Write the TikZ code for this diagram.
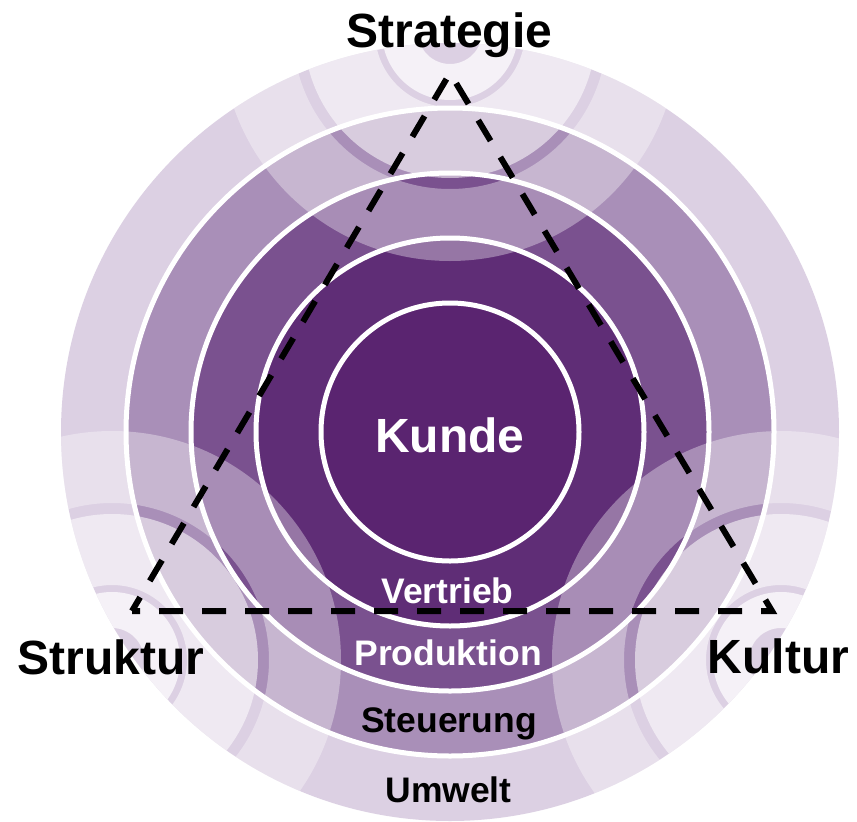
\documentclass[tikz,border=0pt]{standalone}
\usepackage{fontspec}
\setmainfont{Liberation Sans}
\definecolor{cUmwelt}{HTML}{DCD0E3}
\definecolor{cSteuer}{HTML}{A98FB8}
\definecolor{cProd}{HTML}{7A518F}
\definecolor{cVertr}{HTML}{5F2D76}
\definecolor{cKunde}{HTML}{5A2470}
\tikzset{
  bigtext/.style={inner sep=0pt, anchor=base, font=\fontsize{48}{50}\selectfont\bfseries},
  ringtext/.style={inner sep=0pt, anchor=base, font=\fontsize{35.5}{38}\selectfont\bfseries},
  ringline/.style={draw=white, line width=5pt},
  tri/.style={draw=black, line width=6pt, dash pattern=on 24pt off 19pt, dash phase=16pt},
}
\newcommand{\vsys}[1]{%
  \fill[white, fill opacity=0.35, even odd rule] (#1) circle[radius=229pt] (#1) circle[radius=157pt];
  \fill[white, fill opacity=0.55, even odd rule] (#1) circle[radius=146pt] (#1) circle[radius=75pt];
  \fill[white, fill opacity=0.72, even odd rule] (#1) circle[radius=68pt] (#1) circle[radius=32pt];
}
\begin{document}
\begin{tikzpicture}[x=1pt, y=-1pt]
\useasboundingbox (0,0) rectangle (857,822);
\fill[white] (0,0) rectangle (857,822);
\coordinate (C) at (450,432);
\coordinate (S) at (450,32);
\coordinate (L) at (112,660);
\coordinate (R) at (781,660);
% main rings
\fill[cUmwelt] (C) circle[radius=389pt];
\fill[cSteuer] (C) circle[radius=324pt];
\fill[cProd] (C) circle[radius=259pt];
\fill[cVertr] (C) circle[radius=194pt];
\fill[cKunde] (C) circle[radius=129pt];
% vertex ripples
\begin{scope}
  \clip (C) circle[radius=389pt];
  \vsys{S}
  \vsys{L}
  \vsys{R}
\end{scope}
% white ring lines
\draw[ringline] (C) circle[radius=324pt];
\draw[ringline] (C) circle[radius=259pt];
\draw[ringline] (C) circle[radius=194pt];
\draw[ringline] (C) circle[radius=129pt];
% triangle
\coordinate (tS) at (450,73);
\coordinate (tL) at (132,611);
\coordinate (tR) at (772,611);
\draw[tri] (tL) -- (tR) -- (tS) -- cycle;
% texts
\node[bigtext, text=white] (kunde) at (450,452) {Kunde};
\node[ringtext, text=white] (vertrieb) at (447.5,603) {Vertrieb};
\node[ringtext, text=white] (produktion) at (448,665) {Produktion};
\node[ringtext, text=black] (steuerung) at (449,732) {Steuerung};
\node[ringtext, text=black] (umwelt) at (448.5,802) {Umwelt};
\node[bigtext, text=black] (strategie) at (449.5,47) {Strategie};
\node[bigtext, text=black] (struktur) at (111,674) {Struktur};
\node[bigtext, text=black] (kultur) at (778.5,673) {Kultur};
\end{tikzpicture}
\end{document}
